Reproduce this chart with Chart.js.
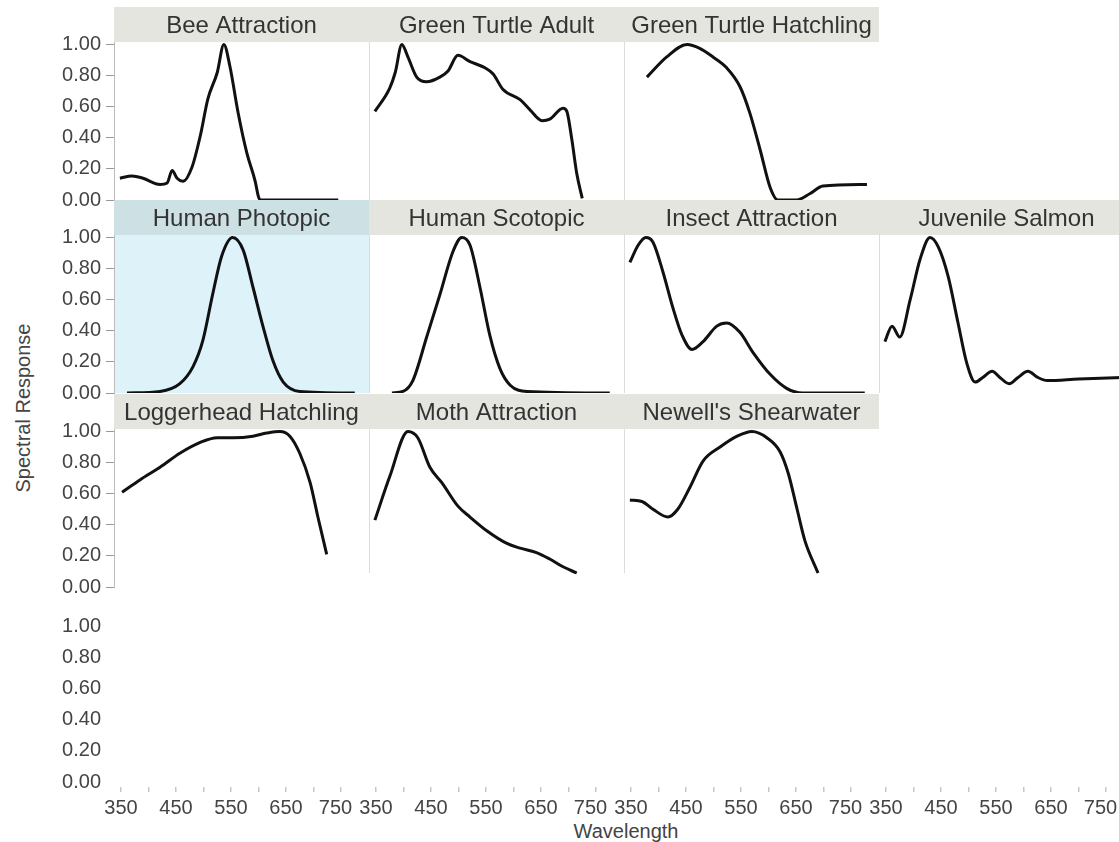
<!DOCTYPE html>
<html>
<head>
<meta charset="utf-8">
<script src="https://cdn.jsdelivr.net/npm/chart.js@4.4.1/dist/chart.umd.min.js"></script>
<style>
html, body { margin: 0; padding: 0; background: #fff; overflow: hidden; }
#wrap { position: relative; width: 1119px; height: 842px; overflow: hidden; font-family: "Liberation Sans", Arial, sans-serif; }
#wrap canvas { position: absolute; }
.axis-title { position: absolute; color: #444; font-size: 20px; white-space: nowrap; }
#yTitle { left: 23px; top: 408px; transform: translate(-50%, -50%) rotate(-90deg); }
#xTitle { left: 626px; top: 831px; transform: translate(-50%, -50%); }
</style>
</head>
<body>
<div id="wrap">
  <div class="axis-title" id="yTitle">Spectral Response</div>
  <div class="axis-title" id="xTitle">Wavelength</div>
</div>
<script>
// Datos de cada panel (longitud de onda en nm, respuesta espectral 0-1)
const beeNm   = [348, 370, 390, 421, 434, 443, 452, 463, 479, 494, 508, 525, 537, 548, 563, 579, 594, 600, 604, 650, 700, 745];
const beeResp = [0.14, 0.155, 0.14, 0.10, 0.11, 0.19, 0.14, 0.12, 0.21, 0.41, 0.65, 0.82, 1.00, 0.86, 0.56, 0.30, 0.12, 0.02, 0.0, 0.0, 0.0, 0.0];

const greenAdultNm   = [348, 375, 385, 397, 408, 424, 442, 466, 481, 499, 521, 548, 563, 581, 612, 630, 652, 666, 690, 697, 706, 715, 725];
const greenAdultResp = [0.57, 0.72, 0.82, 1.00, 0.92, 0.79, 0.76, 0.79, 0.83, 0.93, 0.89, 0.85, 0.81, 0.71, 0.645, 0.58, 0.51, 0.52, 0.59, 0.57, 0.39, 0.17, 0.01];

const greenHatchNm   = [379, 415, 452, 475, 499, 524, 548, 566, 585, 603, 617, 651, 675, 699, 779];
const greenHatchResp = [0.79, 0.92, 1.00, 0.975, 0.92, 0.85, 0.73, 0.56, 0.32, 0.08, 0.0, 0.0, 0.04, 0.09, 0.10];

const photopicNm   = [361, 421, 457, 481, 499, 517, 533, 553, 572, 590, 608, 626, 645, 675, 775];
const photopicResp = [0.0, 0.01, 0.06, 0.17, 0.34, 0.64, 0.88, 1.00, 0.92, 0.68, 0.43, 0.21, 0.07, 0.01, 0.0];

const scotopicNm   = [379, 399, 417, 443, 466, 490, 506, 521, 539, 557, 575, 594, 625, 775];
const scotopicResp = [0.0, 0.01, 0.08, 0.37, 0.63, 0.91, 1.00, 0.95, 0.68, 0.37, 0.16, 0.05, 0.01, 0.0];

const insectNm   = [348, 363, 377, 390, 408, 426, 443, 461, 481, 506, 524, 548, 572, 603, 633, 662, 775];
const insectResp = [0.84, 0.95, 1.00, 0.97, 0.78, 0.55, 0.37, 0.28, 0.33, 0.43, 0.45, 0.39, 0.26, 0.12, 0.03, 0.0, 0.0];

const salmonNm   = [348, 361, 375, 394, 412, 430, 445, 463, 481, 497, 512, 526, 543, 557, 574, 590, 608, 626, 643, 700, 780];
const salmonResp = [0.33, 0.43, 0.36, 0.60, 0.86, 1.00, 0.94, 0.75, 0.45, 0.19, 0.07, 0.10, 0.14, 0.10, 0.06, 0.10, 0.14, 0.10, 0.08, 0.09, 0.10];

const loggerNm   = [352, 385, 421, 457, 494, 525, 554, 590, 615, 639, 657, 675, 694, 708, 724];
const loggerResp = [0.61, 0.69, 0.77, 0.86, 0.93, 0.96, 0.96, 0.97, 0.99, 1.00, 0.97, 0.86, 0.67, 0.45, 0.21];

const mothNm   = [348, 375, 408, 426, 448, 470, 499, 521, 552, 588, 612, 643, 666, 690, 715];
const mothResp = [0.43, 0.71, 1.00, 0.96, 0.77, 0.67, 0.52, 0.45, 0.36, 0.28, 0.25, 0.22, 0.18, 0.13, 0.09];

const newellNm   = [348, 370, 390, 417, 435, 457, 481, 512, 543, 570, 597, 621, 636, 652, 666, 690];
const newellResp = [0.56, 0.55, 0.50, 0.45, 0.50, 0.64, 0.81, 0.90, 0.97, 1.00, 0.96, 0.87, 0.73, 0.50, 0.30, 0.09];

// Ejes
const xTicks  = [350, 400, 450, 500, 550, 600, 650, 700, 750];
const xLabels = [350, 450, 550, 650, 750];
const yTicks  = [0, 0.2, 0.4, 0.6, 0.8, 1.0];

// Paneles (fila, columna)
const panels = [
    { title: 'Bee Attraction',        row: 0, col: 0, nm: beeNm,        resp: beeResp },
    { title: 'Green Turtle Adult',    row: 0, col: 1, nm: greenAdultNm, resp: greenAdultResp },
    { title: 'Green Turtle Hatchling',row: 0, col: 2, nm: greenHatchNm, resp: greenHatchResp },
    { title: 'Human Photopic',        row: 1, col: 0, nm: photopicNm,   resp: photopicResp, highlight: true },
    { title: 'Human Scotopic',        row: 1, col: 1, nm: scotopicNm,   resp: scotopicResp },
    { title: 'Insect Attraction',     row: 1, col: 2, nm: insectNm,     resp: insectResp },
    { title: 'Juvenile Salmon',       row: 1, col: 3, nm: salmonNm,     resp: salmonResp },
    { title: 'Loggerhead Hatchling',  row: 2, col: 0, nm: loggerNm,     resp: loggerResp },
    { title: 'Moth Attraction',       row: 2, col: 1, nm: mothNm,       resp: mothResp },
    { title: "Newell's Shearwater",   row: 2, col: 2, nm: newellNm,     resp: newellResp },
    { row: 3, col: 0 }, { row: 3, col: 1 }, { row: 3, col: 2 }, { row: 3, col: 3 }
];

// Geometría de la cuadrícula
const FONT = "'Liberation Sans', Arial, sans-serif";
const colLeft = [114, 369, 624, 879];
const rowTop = [7, 200, 394, 589];
const panelW = 255, headerH = 35, plotH = 158, xAxisH = 40, labelRoom = 30;
const xMin = 337.3, xMax = 800.9;
const yMax = 1.016, yMinAxisRow = -0.032;
const lastRowCut = 0.09;   // los paneles de la tercera fila terminan aquí

// Fondo de cabecera, área del panel y separador vertical
const panelBg = {
    id: 'panelBg',
    beforeDraw(chart, args, opts) {
        const { ctx, chartArea: a } = chart;
        ctx.save();
        if (opts.area) {
            ctx.fillStyle = opts.area;
            ctx.fillRect(a.left, a.top, a.right - a.left, a.bottom - a.top);
        }
        if (opts.header) {
            ctx.fillStyle = opts.header;
            ctx.fillRect(a.left, 0, a.right - a.left, a.top);
        }
        if (opts.separator) {
            const bottom = opts.cutAt != null ? chart.scales.y.getPixelForValue(opts.cutAt) : a.bottom;
            ctx.strokeStyle = '#dcdcdc';
            ctx.lineWidth = 1;
            ctx.beginPath();
            ctx.moveTo(a.left + 0.5, a.top);
            ctx.lineTo(a.left + 0.5, bottom);
            ctx.stroke();
        }
        ctx.restore();
    }
};

// Etiqueta del eje x: el 750 se corre un poco a la izquierda para no chocar
function xLabel(v) {
    if (!xLabels.includes(v)) return '';
    return v === 750 ? '750  ' : String(v);
}

function makePanel(p) {
    const firstCol = p.col === 0;
    const axisRow = p.row === 3;
    const axisW = firstCol ? colLeft[0] : (axisRow ? labelRoom : 0);
    const left = colLeft[p.col] - axisW;
    const width = panelW + axisW;
    const height = axisRow ? headerH + plotH + 5 + xAxisH : headerH + plotH + 12;

    const canvas = document.createElement('canvas');
    canvas.width = width;
    canvas.height = height;
    canvas.style.left = left + 'px';
    canvas.style.top = rowTop[p.row] + 'px';
    document.getElementById('wrap').appendChild(canvas);

    const datasets = p.nm ? [{
        data: p.nm.map((x, i) => ({ x: x, y: p.resp[i] })),
        borderColor: '#111',
        borderWidth: 3,
        pointRadius: 0,
        fill: false,
        cubicInterpolationMode: 'monotone'
    }] : [];

    new Chart(canvas, {
        type: 'line',
        data: { datasets: datasets },
        options: {
            responsive: false,
            animation: false,
            events: [],
            layout: { padding: { top: p.title ? 0 : headerH, bottom: axisRow ? 0 : 12, left: 0, right: 0 } },
            plugins: {
                legend: { display: false },
                tooltip: { enabled: false },
                title: {
                    display: !!p.title,
                    text: p.title || '',
                    fullSize: false,
                    color: '#333',
                    font: { family: FONT, size: 24, weight: 'normal', lineHeight: 1 },
                    padding: { top: 7, bottom: 4 }
                },
                panelBg: {
                    header: p.title ? (p.highlight ? '#cde0e3' : '#e5e5df') : null,
                    area: p.highlight ? '#def2fa' : null,
                    separator: !firstCol && !axisRow,
                    cutAt: p.row === 2 ? lastRowCut : null
                }
            },
            scales: {
                x: {
                    type: 'linear',
                    min: xMin,
                    max: xMax,
                    display: axisRow,
                    afterBuildTicks: s => { s.ticks = xTicks.map(v => ({ value: v })); },
                    afterFit: s => {
                        s.paddingLeft = 0;
                        s.paddingRight = 0;
                        if (axisRow) s.height = xAxisH;
                    },
                    ticks: {
                        autoSkip: false,
                        maxRotation: 0,
                        color: '#444',
                        font: { family: FONT, size: 20 },
                        padding: 4,
                        callback: xLabel
                    },
                    grid: { drawOnChartArea: false, tickLength: 5, color: '#c8c8c8', lineWidth: 1.5 },
                    border: { display: false }
                },
                y: {
                    type: 'linear',
                    min: axisRow ? yMinAxisRow : 0,
                    max: yMax,
                    afterBuildTicks: s => { s.ticks = yTicks.map(v => ({ value: v })); },
                    afterFit: s => {
                        s.width = axisW;
                        s.paddingTop = 0;
                        s.paddingBottom = 0;
                    },
                    ticks: {
                        display: firstCol,
                        color: '#444',
                        font: { family: FONT, size: 20 },
                        padding: 5,
                        callback: v => v.toFixed(2)
                    },
                    grid: { display: firstCol && !axisRow, drawOnChartArea: false, tickLength: 8, color: '#999' },
                    border: { display: firstCol && !axisRow, color: '#bbb', width: 1 }
                }
            }
        },
        plugins: [panelBg]
    });
}

panels.forEach(makePanel);
</script>
</body>
</html>
